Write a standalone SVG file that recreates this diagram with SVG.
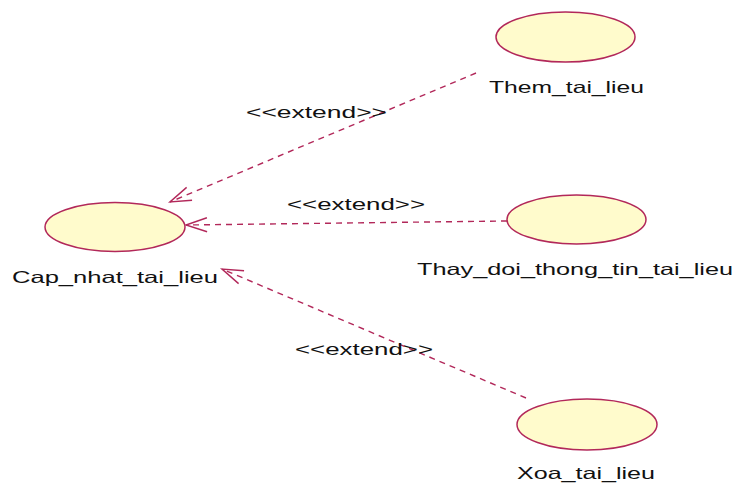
<svg xmlns="http://www.w3.org/2000/svg" width="737" height="487" viewBox="0 0 737 487">
<style>
.uc{fill:#fffbcc;stroke:#b2285a;stroke-width:1.5}
.lbl{font-family:"Liberation Sans",Arial,sans-serif;font-size:16.5px;fill:#111}
.dep{fill:none;stroke:#b2285a;stroke-width:1.4;stroke-dasharray:6 5}
</style>
<defs>
<marker id="open" markerUnits="userSpaceOnUse" markerWidth="30" markerHeight="30" refX="0" refY="0" viewBox="-25 -12 30 24" orient="auto" overflow="visible">
<path d="M-21,-7 L0,0 L-21,7" fill="none" stroke="#b2285a" stroke-width="1.4"/>
</marker>
</defs>
<rect width="737" height="487" fill="#fff"/>
<g id="connectors">
<line class="dep" x1="476" y1="73" x2="170" y2="202" marker-end="url(#open)"/>
<line class="dep" x1="507" y1="221" x2="186" y2="225" marker-end="url(#open)"/>
<line class="dep" x1="526" y1="398" x2="222" y2="269" marker-end="url(#open)"/>
<text class="lbl" x="246" y="118" textLength="141" lengthAdjust="spacingAndGlyphs">&lt;&lt;extend&gt;&gt;</text>
<text class="lbl" x="287" y="210" textLength="138" lengthAdjust="spacingAndGlyphs">&lt;&lt;extend&gt;&gt;</text>
<text class="lbl" x="295" y="355" textLength="138" lengthAdjust="spacingAndGlyphs">&lt;&lt;extend&gt;&gt;</text>
</g>
<g id="cap_nhat_tai_lieu">
<ellipse class="uc" cx="115" cy="227" rx="70" ry="24.5"/>
<text class="lbl" x="12" y="283" textLength="206" lengthAdjust="spacingAndGlyphs">Cap_nhat_tai_lieu</text>
</g>
<g id="them_tai_lieu">
<ellipse class="uc" cx="565.5" cy="37" rx="69.5" ry="25"/>
<text class="lbl" x="489" y="93" textLength="155" lengthAdjust="spacingAndGlyphs">Them_tai_lieu</text>
</g>
<g id="thay_doi_thong_tin_tai_lieu">
<ellipse class="uc" cx="576.5" cy="219.5" rx="69.5" ry="24.5"/>
<text class="lbl" x="417" y="275" textLength="316" lengthAdjust="spacingAndGlyphs">Thay_doi_thong_tin_tai_lieu</text>
</g>
<g id="xoa_tai_lieu">
<ellipse class="uc" cx="587" cy="424.5" rx="70" ry="25.5"/>
<text class="lbl" x="517" y="479" textLength="138" lengthAdjust="spacingAndGlyphs">Xoa_tai_lieu</text>
</g>
</svg>
